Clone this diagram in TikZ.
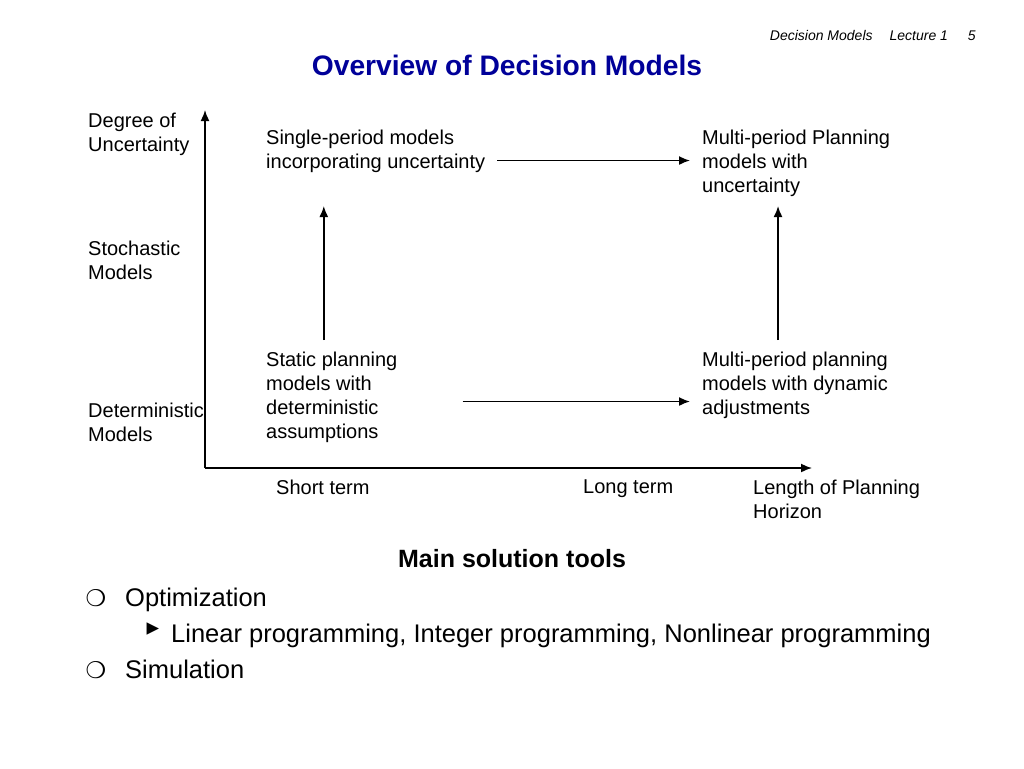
\documentclass[tikz,border=0pt]{standalone}
\usepackage{fontspec}
\setmainfont{Liberation Sans}
\newfontfamily\symfont{DejaVu Sans}
\usetikzlibrary{arrows.meta,positioning}
\definecolor{titleblue}{RGB}{0,0,153}
\tikzset{lbl/.style={anchor=north west, inner sep=0pt, align=left, font=\fontsize{20}{24}\selectfont}, arr/.style={-{Latex[length=11pt,width=9pt]}, line width=1.6pt}, tool/.style={anchor=base west, inner sep=0pt, font=\fontsize{25.5}{30}\selectfont}, bullet/.style={inner sep=0pt, font=\symfont\fontsize{23}{24}\selectfont}}

\begin{document}
\begin{tikzpicture}[x=1pt,y=-1pt]
    \useasboundingbox (0,0) rectangle (1024,768);
    \node[anchor=base east, inner sep=0pt, font=\itshape\fontsize{14}{16}\selectfont] (hdr) at (976,41) {Decision Models\hspace{17pt}Lecture 1\hspace{20pt}5};
    \node[inner sep=0pt, text=titleblue, font=\bfseries\fontsize{28.2}{32}\selectfont] (title) at (507,65) {Overview of Decision Models};
    % axes
    \coordinate (O) at (205,468);
    \coordinate (ymax) at (205,110);
    \coordinate (xmax) at (812,468);
    \draw[arr] (O) -- (ymax);
    \draw[arr] (O) -- (xmax);
    \node[lbl] (deg) at (88,113) {Degree of\\Uncertainty};
    \node[lbl] (stoch) at (88,241) {Stochastic\\Models};
    \node[lbl] (det) at (88,403) {Deterministic\\Models};
    \node[lbl] (short) at (276,480) {Short term};
    \node[lbl] (long) at (583,480) {Long term};
    \node[lbl] (length) at (753,480) {Length of Planning\\Horizon};
    % model boxes
    \node[lbl] (single) at (266,130) {Single-period models\\incorporating uncertainty};
    \node[lbl] (multiU) at (702,130) {Multi-period Planning\\models with\\uncertainty};
    \node[lbl] (static) at (266,352) {Static planning\\models with\\deterministic\\assumptions};
    \node[lbl] (multiD) at (702,352) {Multi-period planning\\models with dynamic\\adjustments};
    \draw[arr, shorten <=12pt, shorten >=12pt] ([yshift=3pt]single.east |- multiU.west) -- ([yshift=3pt]multiU.west);
    \draw[arr, shorten <=65pt, shorten >=12pt] ([yshift=-4pt]static.east) -- ([yshift=-4pt]static.east -| multiD.west);
    \draw[arr, shorten <=12pt, shorten >=33pt] ([xshift=-8pt]static.north) -- ([xshift=-8pt]static.north |- single.south);
    \draw[arr, shorten <=12pt, shorten >=9pt] ([xshift=-17pt]multiD.north) -- ([xshift=-17pt]multiD.north |- multiU.south);
    % solution tools
    \node[inner sep=0pt, font=\bfseries\fontsize{25}{30}\selectfont] (tools) at (512,559) {Main solution tools};
    \node[tool] (opt) at (125,606) {Optimization};
    \node[tool] (lp) at (171,642) {Linear programming, Integer programming, Nonlinear programming};
    \node[tool] (sim) at (125,678) {Simulation};
    \node[bullet] (b1) at (96,598) {❍};
    \node[bullet, font=\symfont\fontsize{25}{25}\selectfont] (b2) at (153,629) {▸};
    \node[bullet] (b3) at (96,670) {❍};
\end{tikzpicture}
\end{document}
